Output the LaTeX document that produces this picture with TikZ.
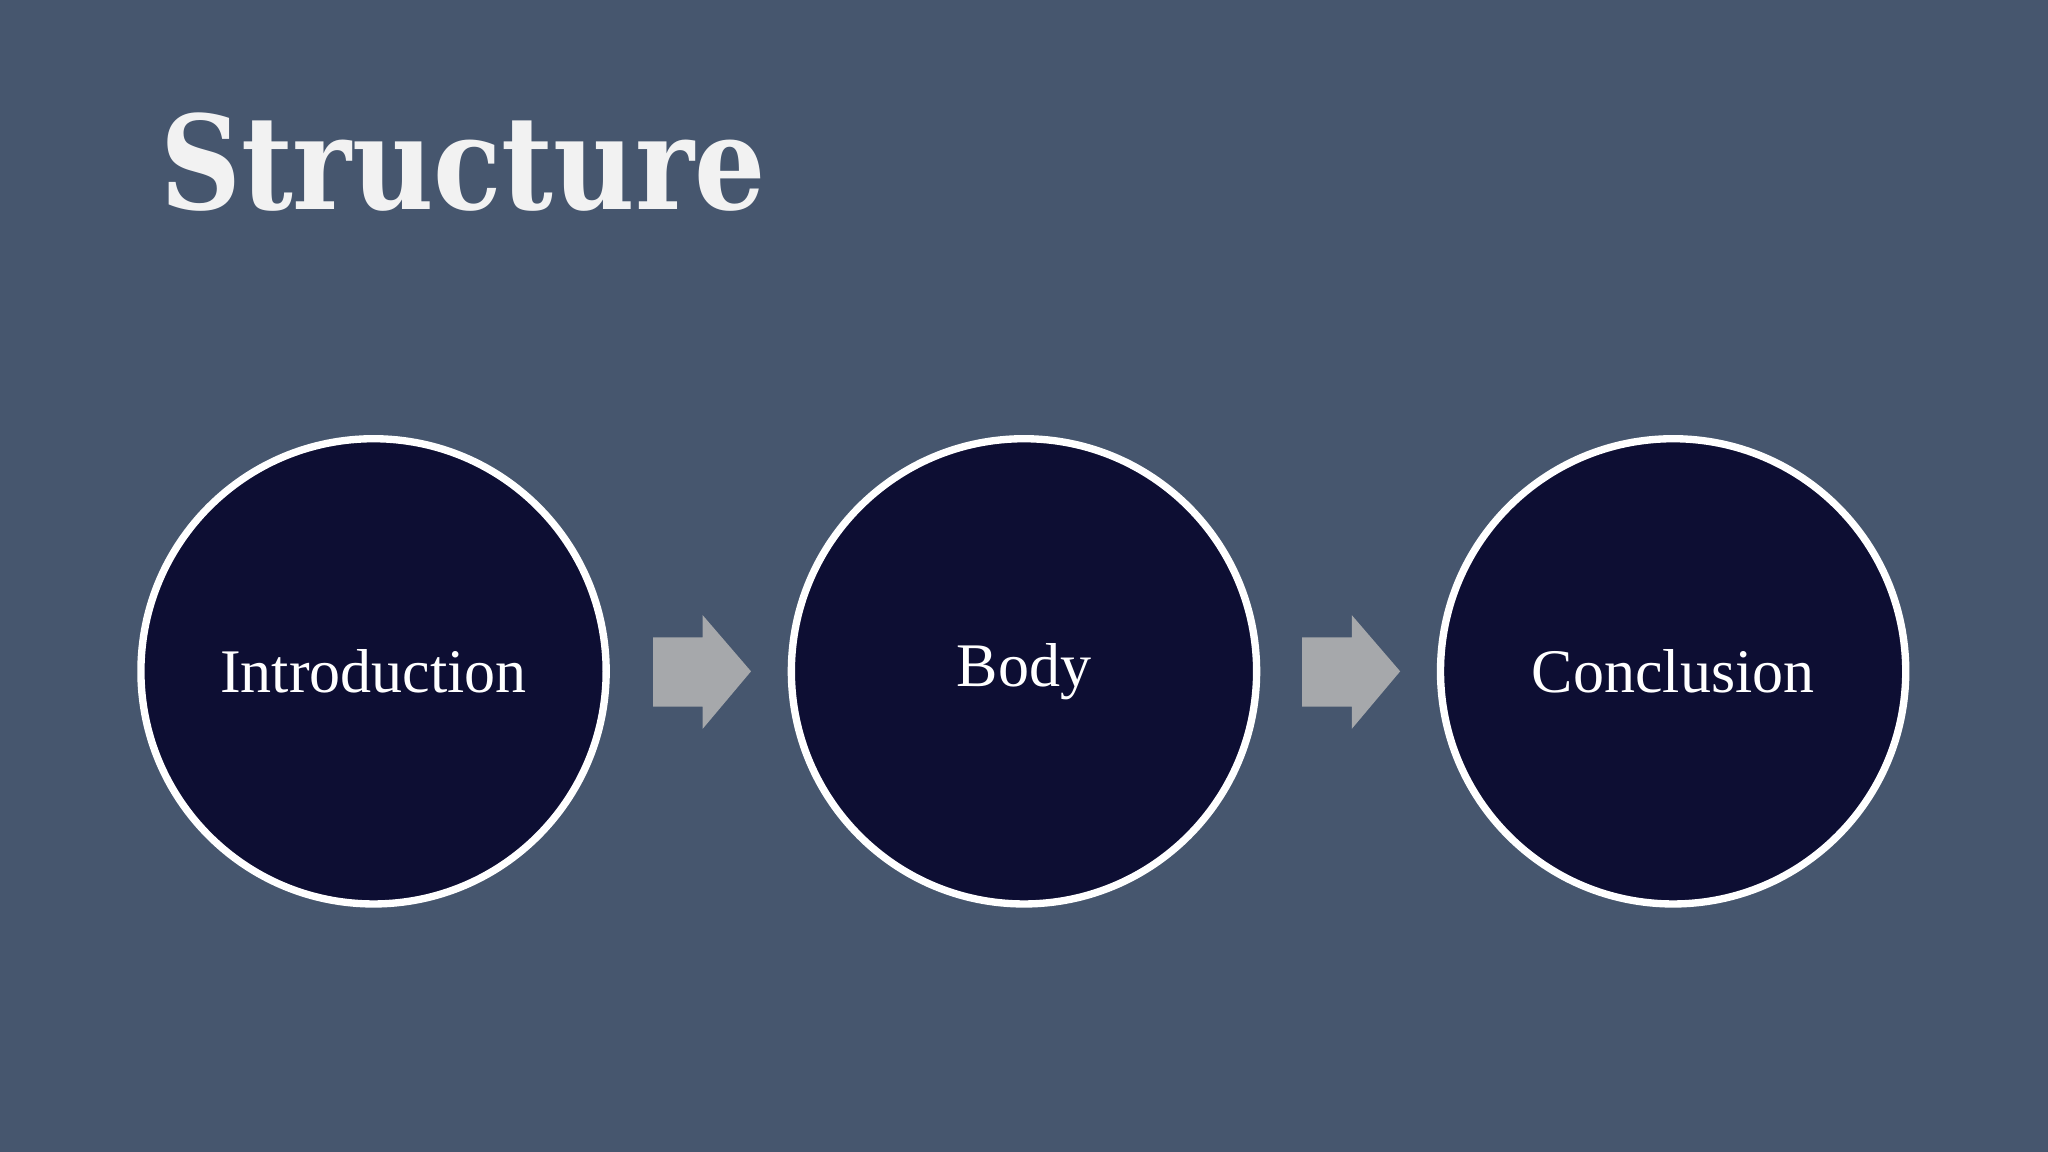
\documentclass[tikz,border=0pt]{standalone}
\usepackage{fontspec}
\setmainfont{Liberation Serif}
\newfontfamily\titlefont{DejaVu Serif}
\definecolor{bg}{HTML}{46566E}
\definecolor{disc}{HTML}{0D0E33}
\definecolor{arr}{HTML}{A6A8AB}
\begin{document}
\begin{tikzpicture}[x=0.01cm,y=-0.01cm,
  stage/.style={circle,draw=white,line width=1.6pt,fill=disc,minimum size=3.56cm,inner sep=0pt,text=white,font=\fontsize{13.5}{16}\selectfont},
  flowarrow/.style={fill=arr}]
\fill[bg] (0,0) rectangle (1568,882);
\useasboundingbox (0,0) rectangle (1568,882);
\node[anchor=west,text=white!90!gray,inner sep=0pt] (title) at (122,124) {\resizebox{4.63cm}{0.74cm}{\titlefont\bfseries Structure}};
\node[stage] (intro) at (286,514) {Introduction};
\node[stage] (body) at (784,514) {Body};
\node[stage] (concl) at (1281,514) {Conclusion};
\coordinate (a1) at (500,514);
\coordinate (a2) at (997,514);
\foreach \c in {a1,a2}{
  \fill[flowarrow] ([shift={(0,-26)}]\c) -- ++(38,0) -- ++(0,-17) -- ++(37,43) -- ++(-37,44) -- ++(0,-17) -- ++(-38,0) -- cycle;
}
\end{tikzpicture}
\end{document}
